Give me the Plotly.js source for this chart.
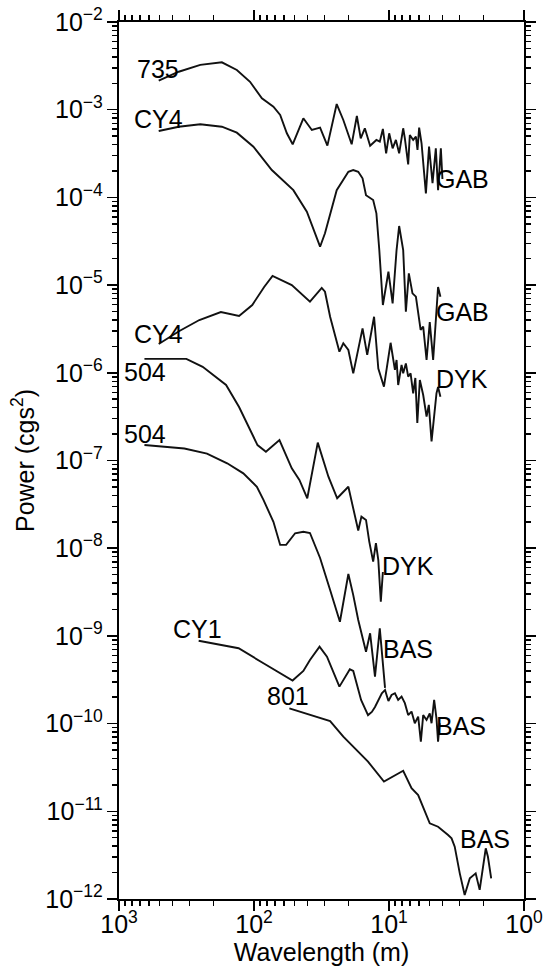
<!DOCTYPE html>
<html>
<head>
<meta charset="utf-8">
<script src="https://cdn.plot.ly/plotly-3.0.1.min.js"></script>
<style>
html,body{margin:0;padding:0;background:#fff;}
#chart{width:548px;height:966px;}
</style>
</head>
<body>
<div id="chart"></div>
<script>
// ---- data (wavelength in m, power in cgs^2) ----
const s735_wl = [508,361,250,173,134,107,87.4,71.8,64.0,57.1,51.7,43.1,37.3,32.4,28.6,24.4,21.8,18.9,17.3,16.2,15.1,13.8,12.4,11.7,11.1,10.5,9.97,9.40,8.89,8.41,7.85,7.63,7.21,7.01,6.62,6.32,6.15,5.98,5.74,5.33,5.05,4.76,4.50,4.33,4.13,4.02];
const s735_pw = [2.14e-3,2.71e-3,3.24e-3,3.47e-3,2.84e-3,2.08e-3,1.35e-3,1.08e-3,8.71e-4,5.38e-4,4.03e-4,7.98e-4,5.87e-4,6.24e-4,3.89e-4,1.16e-3,7.63e-4,4.03e-4,8.47e-4,4.72e-4,6.14e-4,3.89e-4,4.52e-4,4.32e-4,6.03e-4,3.18e-4,5.38e-4,3.63e-4,4.52e-4,3.18e-4,6.14e-4,4.72e-4,2.38e-4,5.15e-4,4.52e-4,4.92e-4,3.47e-4,6.24e-4,4.14e-4,1.11e-4,3.79e-4,1.45e-4,3.63e-4,1.21e-4,3.63e-4,1.62e-4];

const cy4gab_wl = [508,361,250,173,134,101,73.8,51.1,40.6,32.4,29.8,24.4,20.0,18.4,16.9,15.7,14.8,13.1,12.4,11.8,11.1,10.1,9.40,8.79,8.41,7.85,7.50,7.13,6.70,6.32,5.83,5.58,5.27,4.99,4.71,4.33,4.16];
const cy4gab_pw = [5.71e-4,6.40e-4,6.82e-4,6.40e-4,5.47e-4,3.79e-4,2.05e-4,1.21e-4,6.87e-5,2.74e-5,3.90e-5,1.21e-4,1.96e-4,2.05e-4,1.96e-4,1.65e-4,1.06e-4,9.33e-5,6.59e-5,2.51e-5,5.93e-6,1.42e-5,6.19e-6,2.51e-5,4.72e-5,2.51e-5,4.98e-6,1.36e-5,8.06e-6,7.38e-6,3.08e-6,3.36e-6,1.40e-6,3.79e-6,1.40e-6,9.51e-6,7.38e-6];

const cy4dyk_wl = [508,357,254,176,129,103,84.1,72.9,52.5,38.5,31.5,29.8,27.3,23.3,21.8,20.0,18.4,15.7,14.5,12.9,12.0,10.9,9.73,9.04,8.79,8.55,8.07,7.85,7.50,7.21,6.92,6.62,6.38,6.17,5.91,5.58,5.27,5.07,4.84,4.45,4.33,4.16];
const cy4dyk_pw = [2.13e-6,3.00e-6,4.00e-6,4.93e-6,4.45e-6,5.93e-6,9.51e-6,1.27e-5,1.00e-5,6.47e-6,9.27e-6,8.41e-6,4.36e-6,1.74e-6,2.17e-6,1.82e-6,9.86e-7,3.21e-6,1.60e-6,4.36e-6,1.12e-6,6.95e-7,2.20e-6,1.08e-6,1.40e-6,7.26e-7,1.23e-6,9.86e-7,1.28e-6,9.03e-7,9.86e-7,5.83e-7,8.73e-7,2.68e-7,8.28e-7,5.58e-7,3.16e-7,4.30e-7,1.65e-7,5.83e-7,6.89e-7,5.33e-7];

const s504dyk_wl = [648,317,240,191,161,129,105,94.2,81.6,64.8,52.5,46.1,40.3,33.7,28.1,24.2,20.0,16.9,16.0,14.8,14.0,13.1,12.5,12.0,11.5,11.1];
const s504dyk_pw = [1.44e-6,1.44e-6,1.17e-6,9.03e-7,7.26e-7,4.07e-7,2.17e-7,1.50e-7,1.26e-7,1.71e-7,8.15e-8,6.00e-8,3.71e-8,1.60e-7,6.53e-8,3.71e-8,5.02e-8,1.59e-8,2.29e-8,2.10e-8,1.19e-8,7.02e-9,1.14e-8,7.33e-9,2.45e-9,5.36e-9];

const s504bas_wl = [648,328,223,158,120,95.2,85.1,71.8,64.0,57.8,49.6,43.1,38.5,32.4,27.3,24.5,23.1,20.0,18.4,16.9,14.8,13.8,12.7,11.7,10.7];
const s504bas_pw = [1.50e-7,1.37e-7,1.20e-7,9.29e-8,7.14e-8,5.02e-8,3.55e-8,2.00e-8,1.09e-8,1.09e-8,1.48e-8,1.54e-8,1.49e-8,7.73e-9,3.34e-9,1.97e-9,1.45e-9,5.08e-9,2.92e-9,1.52e-9,6.61e-10,1.07e-9,3.43e-10,1.22e-9,2.55e-10];

const cy1bas_wl = [257,130,85.1,51.8,43.1,38.5,32.7,28.8,23.3,19.5,18.4,16.1,14.3,13.4,12.7,11.3,10.7,10.1,9.57,9.04,8.55,8.07,7.63,7.21,6.81,6.44,6.08,5.81,5.58,5.27,4.99,4.84,4.63,4.45,4.33,4.21];
const cy1bas_pw = [8.81e-10,7.23e-10,4.88e-10,3.10e-10,3.98e-10,5.31e-10,7.53e-10,5.79e-10,2.64e-10,4.16e-10,3.98e-10,1.86e-10,1.25e-10,1.36e-10,1.55e-10,2.22e-10,2.42e-10,1.81e-10,2.12e-10,2.22e-10,1.86e-10,2.03e-10,1.71e-10,1.25e-10,1.37e-10,1.01e-10,1.20e-10,6.22e-11,1.25e-10,1.10e-10,1.31e-10,1.01e-10,1.86e-10,1.15e-10,6.22e-11,1.01e-10];

const s801bas_wl = [54.7,27.3,21.8,14.3,10.9,7.85,6.81,6.08,4.99,4.33,3.65,3.44,3.26,2.99,2.75,2.52,2.28,2.13,1.92,1.85,1.75];
const s801bas_pw = [1.49e-10,1.07e-10,7.10e-11,3.68e-11,2.18e-11,2.90e-11,1.83e-11,1.53e-11,7.30e-12,6.67e-12,5.37e-12,4.92e-12,3.95e-12,1.96e-12,1.11e-12,1.72e-12,1.96e-12,1.27e-12,3.78e-12,3.03e-12,1.72e-12];

const xTickVals = [1000,100,10,1];
const xTickText = ['10<sup>3</sup>','10<sup>2</sup>','10<sup>1</sup>','10<sup>0</sup>'];

const labelTexts = ['735','CY4','GAB','GAB','CY4','504','DYK','504','DYK','CY1','BAS','801','BAS','BAS'];
// label placement (log10 wavelength, log10 power) - layout only
const labelPos = [[2.712,-2.536],[2.710,-3.106],[0.454,-3.790],[0.454,-5.307],[2.710,-5.558],[2.806,-5.991],[0.458,-6.071],[2.806,-6.698],[0.860,-8.203],[2.416,-8.921],[0.860,-9.149],[1.745,-9.685],[0.463,-10.027],[0.289,-11.316]];

// minor log tick positions (2..9 within each decade)
function minorTicks(majors) {
  const out = [];
  majors.forEach(m => { for (let k = 2; k <= 9; k++) out.push(m * k); });
  return out;
}
const xMinor = minorTicks([1, 10, 100]);

const X_RANGE = [3, 0];     // log10 wavelength, reversed
const Y_RANGE = [-12, -2];  // log10 power
const toPaperX = lx => (lx - X_RANGE[0]) / (X_RANGE[1] - X_RANGE[0]);
const toPaperY = ly => (ly - Y_RANGE[0]) / (Y_RANGE[1] - Y_RANGE[0]);

const FONT = 'Liberation Sans, Arial, Helvetica, sans-serif';
const series = [
  [s735_wl, s735_pw],
  [cy4gab_wl, cy4gab_pw],
  [cy4dyk_wl, cy4dyk_pw],
  [s504dyk_wl, s504dyk_pw],
  [s504bas_wl, s504bas_pw],
  [cy1bas_wl, cy1bas_pw],
  [s801bas_wl, s801bas_pw]
];
const traces = series.map(s => ({
  x: s[0], y: s[1], type: 'scatter', mode: 'lines',
  line: {color: '#111', width: 1.9}
}));

const layout = {
  width: 548, height: 966,
  margin: {l: 119, r: 24, t: 22, b: 67},
  showlegend: false,
  xaxis: {
    type: 'log', range: X_RANGE,
    tickmode: 'array', tickvals: xTickVals, ticktext: xTickText,
    ticks: 'outside', ticklen: 10, tickwidth: 1.5, tickcolor: '#000',
    mirror: 'allticks', showline: true, linewidth: 2.2, linecolor: '#000',
    showgrid: false, zeroline: false,
    tickfont: {family: FONT, size: 25, color: '#000'},
    ticklabelstandoff: -8,
    minor: {tickmode: 'array', tickvals: xMinor, ticks: 'outside', ticklen: 5},
    title: {text: 'Wavelength (m)', font: {family: FONT, size: 25, color: '#000'}, standoff: 0}
  },
  yaxis: {
    type: 'log', range: Y_RANGE, dtick: 1, exponentformat: 'power',
    ticks: 'outside', ticklen: 10, tickwidth: 1.5, tickcolor: '#000',
    mirror: 'allticks', showline: true, linewidth: 2.2, linecolor: '#000',
    showgrid: false, zeroline: false,
    tickfont: {family: FONT, size: 20, color: '#000'},
    minor: {ticks: 'outside', ticklen: 5, dtick: 'D1'},
    title: {text: 'Power (cgs<sup>2</sup>)', font: {family: FONT, size: 25, color: '#000'}, standoff: 4}
  },
  annotations: labelTexts.map((t, i) => ({
    text: t, x: toPaperX(labelPos[i][0]), y: toPaperY(labelPos[i][1]), xref: 'paper', yref: 'paper',
    showarrow: false, xanchor: 'center', yanchor: 'middle',
    font: {family: FONT, size: 25, color: '#000'}
  }))
};

Plotly.newPlot('chart', traces, layout, {displayModeBar: false, staticPlot: true});
</script>
</body>
</html>
